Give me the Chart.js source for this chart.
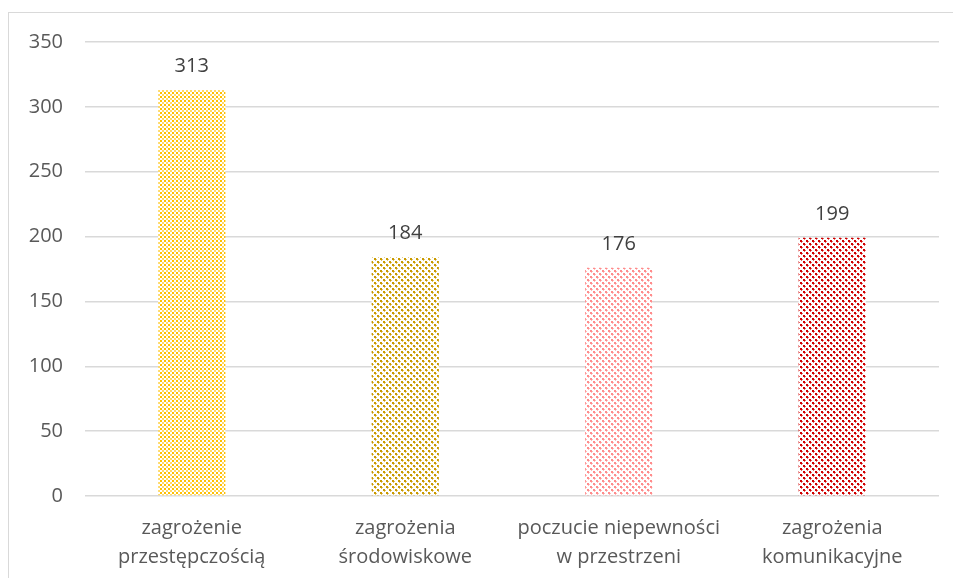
<!DOCTYPE html>
<html>
<head>
<meta charset="utf-8">
<script src="https://cdn.jsdelivr.net/npm/chart.js@4/dist/chart.umd.min.js"></script>
<style>
    html, body { margin: 0; padding: 0; background: #fff; }
    #frame {
        position: absolute; left: 8px; top: 12px; width: 960px; height: 580px;
        border-left: 1px solid #d9d9d9; border-top: 1px solid #d9d9d9;
    }
    #wrap { position: absolute; left: 8px; top: 12px; width: 945px; height: 566px; }
</style>
</head>
<body>
<div id="frame"></div>
<div id="wrap"><canvas id="barChart"></canvas></div>
<script>
const categories = [
    ['zagrożenie', 'przestępczością'],
    ['zagrożenia', 'środowiskowe'],
    ['poczucie niepewności', 'w przestrzeni'],
    ['zagrożenia', 'komunikacyjne']
];
const values = [313, 184, 176, 199];
const yTicks = [0, 50, 100, 150, 200, 250, 300, 350];
const barColors = ['#FFC000', '#C99A00', '#FF8C8C', '#D00000'];

// small tiled fills like the office pattern fills
function makePattern(color, kind) {
    const c = document.createElement('canvas');
    const g = c.getContext('2d');
    if (kind === 'dots') {
        c.width = 4; c.height = 4;
        g.fillStyle = '#fff'; g.fillRect(0, 0, 4, 4);
        g.fillStyle = color;
        g.fillRect(0, 0, 2, 2);
        g.globalAlpha = 0.6;
        g.fillRect(2, 2, 2, 2);
    } else {
        c.width = 6; c.height = 6;
        g.fillStyle = '#fff'; g.fillRect(0, 0, 6, 6);
        g.fillStyle = color;
        g.fillRect(0, 0, 2, 2);
        g.fillRect(3, 3, 2, 2);
        g.globalAlpha = 0.6;
        g.fillRect(2, 1, 1, 1);
        g.fillRect(1, 2, 1, 1);
        g.fillRect(5, 4, 1, 1);
        g.fillRect(4, 5, 1, 1);
    }
    return g.createPattern(c, 'repeat');
}

const ctx = document.getElementById('barChart').getContext('2d');
const fills = [
    makePattern(barColors[0], 'dots'),
    makePattern(barColors[1], 'lattice'),
    makePattern(barColors[2], 'lattice'),
    makePattern(barColors[3], 'lattice')
];
const fontFamily = '"Open Sans", Lato, sans-serif';

const valueLabels = {
    id: 'valueLabels',
    afterDatasetsDraw(chart) {
        const c = chart.ctx;
        const meta = chart.getDatasetMeta(0);
        c.save();
        c.font = '20px ' + fontFamily;
        c.fillStyle = '#404040';
        c.textAlign = 'center';
        c.textBaseline = 'alphabetic';
        meta.data.forEach(function (bar, i) {
            c.fillText(String(values[i]), bar.x, bar.y - 18);
        });
        c.restore();
    }
};

new Chart(ctx, {
    type: 'bar',
    data: {
        labels: categories,
        datasets: [{
            data: values,
            backgroundColor: fills,
            borderWidth: 0,
            categoryPercentage: 1,
            barPercentage: 0.315
        }]
    },
    options: {
        responsive: true,
        maintainAspectRatio: false,
        animation: false,
        layout: { padding: { top: 30, right: 14, left: 0, bottom: 0 } },
        plugins: {
            legend: { display: false },
            tooltip: { enabled: false }
        },
        scales: {
            y: {
                min: 0,
                max: 350,
                afterBuildTicks: function (scale) {
                    scale.ticks = yTicks.map(v => ({ value: v }));
                },
                afterFit: function (scale) {
                    scale.width = 77;
                    scale.paddingTop = 0;
                    scale.paddingBottom = 0;
                },
                border: { display: false },
                grid: { color: '#d9d9d9', lineWidth: 1.5, drawTicks: false },
                ticks: {
                    padding: 22,
                    color: '#595959',
                    font: { family: fontFamily, size: 20 }
                }
            },
            x: {
                afterFit: function (scale) { scale.height = 82; },
                border: { display: false },
                grid: { display: false },
                ticks: {
                    padding: 10,
                    color: '#595959',
                    maxRotation: 0,
                    autoSkip: false,
                    font: { family: fontFamily, size: 20, lineHeight: 1.45 }
                }
            }
        }
    },
    plugins: [valueLabels]
});
</script>
</body>
</html>
